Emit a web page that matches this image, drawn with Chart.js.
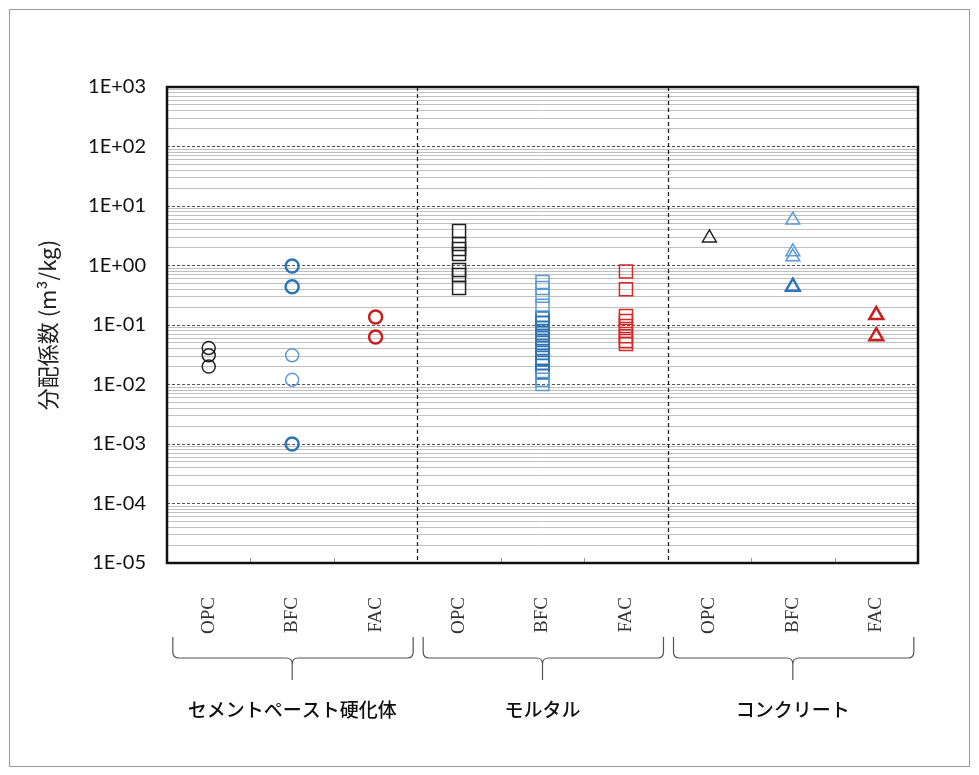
<!DOCTYPE html>
<html>
<head>
<meta charset="utf-8">
<script src="https://cdn.jsdelivr.net/npm/chart.js@4.4.0/dist/chart.umd.min.js"></script>
<style>
  html, body { margin:0; padding:0; background:#fff; }
  #wrap { width:979px; height:775px; position:relative; }
</style>
</head>
<body>
<div id="wrap"><canvas id="chart"></canvas></div>
<script>
// ===== partition coefficient chart =====

const CATEGORY_LABELS = ['OPC','BFC','FAC','OPC','BFC','FAC','OPC','BFC','FAC'];
const GROUP_LABELS = ['セメントペースト硬化体','モルタル','コンクリート'];
const Y_DECADES = [1e-5, 1e-4, 1e-3, 1e-2, 1e-1, 1e0, 1e1, 1e2, 1e3];
const Y_MINOR = [2,3,4,5,6,7,8,9];

// cement paste (circles)
const PASTE_OPC       = [0.041, 0.031, 0.020];
const PASTE_BFC_DARK  = [0.98, 0.44, 0.001];
const PASTE_BFC_LIGHT = [0.031, 0.012];
const PASTE_FAC       = [0.136, 0.063];
// mortar (squares)
const MORTAR_OPC       = [3.8, 2.3, 1.9, 1.56, 0.84, 0.69, 0.42];
const MORTAR_BFC_LIGHT = [0.53, 0.42, 0.31, 0.21, 0.012, 0.0102];
const MORTAR_BFC_DARK  = [0.131, 0.108, 0.089, 0.073, 0.060, 0.050, 0.041, 0.034, 0.028, 0.023, 0.016];
const MORTAR_FAC       = [0.79, 0.40, 0.142, 0.117, 0.096, 0.079, 0.065, 0.054, 0.048];
// concrete (triangles)
const CONCRETE_OPC       = [2.9];
const CONCRETE_BFC_LIGHT = [5.8, 1.7, 1.4];
const CONCRETE_BFC_DARK  = [0.44];
const CONCRETE_FAC       = [0.147, 0.065];

const BLACK = '#222222', BLUE = '#2e75b6', LBLUE = '#5b9bd5', RED = '#c81e1e';

function series(vals, idx, shape, color, width) {
  const r = shape === 'rect' ? 9.2 : shape === 'triangle' ? 8 : 6.5;
  return {
    data: vals.map(v => ({ x: idx, y: v })),
    showLine: false,
    pointStyle: shape,
    pointRadius: r,
    pointBorderColor: color,
    pointBackgroundColor: 'rgba(0,0,0,0)',
    pointBorderWidth: width,
    borderColor: color,
    backgroundColor: 'rgba(0,0,0,0)'
  };
}

const DATASETS = [
  series(PASTE_OPC, 0, 'circle', BLACK, 1.5),
  series(PASTE_BFC_LIGHT, 1, 'circle', LBLUE, 1.5),
  series(PASTE_BFC_DARK, 1, 'circle', BLUE, 2.5),
  series(PASTE_FAC, 2, 'circle', RED, 2.5),
  series(MORTAR_OPC, 3, 'rect', BLACK, 1.5),
  series(MORTAR_BFC_LIGHT, 4, 'rect', LBLUE, 1.5),
  series(MORTAR_BFC_DARK, 4, 'rect', BLUE, 1.8),
  series(MORTAR_FAC, 5, 'rect', '#d62828', 1.5),
  series(CONCRETE_OPC, 6, 'triangle', BLACK, 1.5),
  series(CONCRETE_BFC_LIGHT, 7, 'triangle', LBLUE, 1.5),
  series(CONCRETE_BFC_DARK, 7, 'triangle', BLUE, 2.5),
  series(CONCRETE_FAC, 8, 'triangle', RED, 2.5),
];

function isDecade(v) {
  const l = Math.log10(v);
  return Math.abs(l - Math.round(l)) < 1e-9;
}
function fmtDecade(v) {
  const e = Math.round(Math.log10(v));
  return '1E' + (e < 0 ? '-' : '+') + String(Math.abs(e)).padStart(2, '0');
}

const decorPlugin = {
  id: 'decor',
  beforeDatasetsDraw(chart) {
    const { ctx, chartArea: a, scales: { x } } = chart;
    ctx.save();
    // group separators
    ctx.strokeStyle = '#222';
    ctx.lineWidth = 1.3;
    ctx.setLineDash([4, 3]);
    [2.5, 5.5].forEach(v => {
      const px = Math.round(x.getPixelForValue(v)) + 0.5;
      ctx.beginPath(); ctx.moveTo(px, a.top); ctx.lineTo(px, a.bottom); ctx.stroke();
    });
    ctx.setLineDash([]);
    // small inner ticks between categories
    ctx.strokeStyle = '#999';
    ctx.lineWidth = 1;
    [0.5, 1.5, 3.5, 4.5, 6.5, 7.5].forEach(v => {
      const px = Math.round(x.getPixelForValue(v)) + 0.5;
      ctx.beginPath(); ctx.moveTo(px, a.bottom - 5); ctx.lineTo(px, a.bottom); ctx.stroke();
    });
    ctx.restore();
  },
  afterDraw(chart) {
    const { ctx, chartArea: a, scales: { x } } = chart;
    ctx.save();
    // plot frame
    ctx.strokeStyle = '#111';
    ctx.lineWidth = 2.5;
    ctx.strokeRect(a.left, a.top, a.right - a.left, a.bottom - a.top);
    // braces + group names
    ctx.strokeStyle = '#555';
    ctx.lineWidth = 1.2;
    const yT = a.bottom + 74, yH = a.bottom + 95, yB = a.bottom + 117;
    GROUP_LABELS.forEach((name, g) => {
      const x0 = x.getPixelForValue(3 * g - 0.43);
      const x1 = x.getPixelForValue(3 * g + 2.45);
      const xm = x.getPixelForValue(3 * g + 1);
      ctx.beginPath();
      ctx.moveTo(x0, yT); ctx.lineTo(x0, yH - 6);
      ctx.quadraticCurveTo(x0, yH, x0 + 6, yH);
      ctx.lineTo(xm - 6, yH);
      ctx.quadraticCurveTo(xm, yH, xm, yH + 6);
      ctx.lineTo(xm, yB);
      ctx.moveTo(xm, yH + 6);
      ctx.quadraticCurveTo(xm, yH, xm + 6, yH);
      ctx.lineTo(x1 - 6, yH);
      ctx.quadraticCurveTo(x1, yH, x1, yH - 6);
      ctx.lineTo(x1, yT);
      ctx.stroke();
      ctx.fillStyle = '#111';
      ctx.font = '500 19px "Noto Sans CJK JP"';
      ctx.textAlign = 'center';
      ctx.textBaseline = 'middle';
      ctx.fillText(name, xm, a.bottom + 147);
    });
    // outer frame
    ctx.strokeStyle = '#9a9a9a';
    ctx.lineWidth = 1;
    ctx.strokeRect(9.5, 9.5, 960, 757);
    ctx.restore();
  }
};

new Chart(document.getElementById('chart'), {
  type: 'scatter',
  data: { datasets: DATASETS },
  options: {
    responsive: true, maintainAspectRatio: false, animation: false, events: [],
    layout: { padding: { left: 0, top: 87, right: 61, bottom: 0 } },
    plugins: { legend: { display: false }, tooltip: { enabled: false } },
    scales: {
      x: {
        type: 'linear', min: -0.5, max: 8.5,
        afterBuildTicks: s => { s.ticks = CATEGORY_LABELS.map((_, i) => ({ value: i })); },
        afterFit: s => { s.height = 212; },
        grid: { display: false },
        border: { display: false },
        ticks: {
          autoSkip: false, minRotation: 90, maxRotation: 90, padding: 26,
          color: '#333', font: { family: '"Liberation Serif"', size: 19 },
          callback: v => CATEGORY_LABELS[v]
        }
      },
      y: {
        type: 'logarithmic', min: 1e-5, max: 1e3,
        afterBuildTicks: s => {
          const t = [];
          Y_DECADES.forEach(d => {
            t.push({ value: d });
            if (d < 1e3) Y_MINOR.forEach(m => t.push({ value: m * d }));
          });
          s.ticks = t;
        },
        afterFit: s => { s.width = 167; },
        grid: {
          drawTicks: false,
          lineWidth: 1,
          color: c => (c.tick && isDecade(c.tick.value)) ? '#555' : '#c0c0c0'
        },
        border: { display: false, dash: c => (c.tick && isDecade(c.tick.value)) ? [3, 2] : [] },
        ticks: {
          autoSkip: false, padding: 21, color: '#111',
          font: { family: 'Lato', size: 20 },
          callback: v => isDecade(v) ? fmtDecade(v) : ''
        },
        title: {
          display: true, text: '分配係数 (m³/kg)', color: '#222',
          font: { family: '"Noto Sans CJK JP"', size: 22 },
          padding: { top: 34, bottom: 0 }
        }
      }
    }
  },
  plugins: [decorPlugin]
});
</script>
</body>
</html>
